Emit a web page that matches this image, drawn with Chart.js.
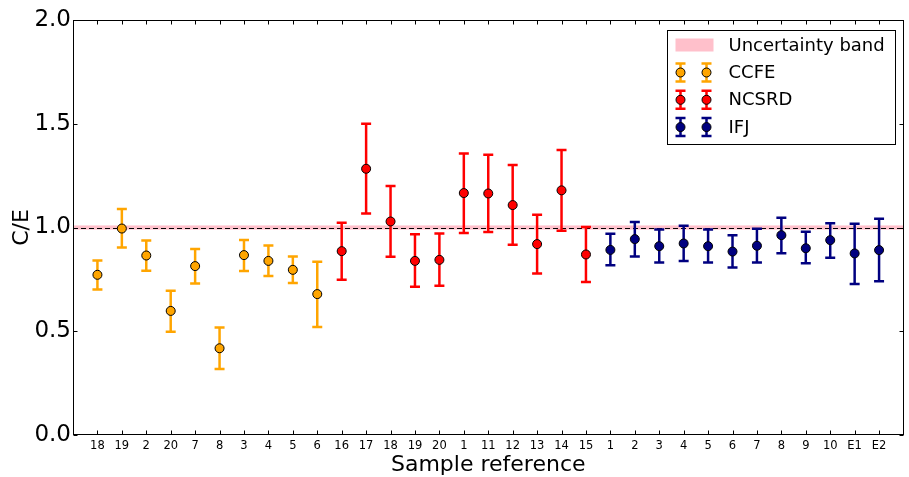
<!DOCTYPE html>
<html lang="en">
<head>
    <meta charset="UTF-8">
    <title>C/E by sample reference</title>
    <script src="https://cdn.jsdelivr.net/npm/chart.js"></script>
    <style>
        html, body { margin: 0; padding: 0; background: #ffffff; }
        #wrap { width: 909px; height: 477px; position: relative; }
    </style>
</head>
<body>
    <div id="wrap"><canvas id="myChart" width="909" height="477"></canvas></div>
    <script>
        // sample references, in the order they are plotted
        const ccfeLabels = [ '18', '19', '2', '20', '7', '8', '3', '4', '5', '6' ];
        const ncsrdLabels = [ '16', '17', '18', '19', '20', '1', '11', '12', '13', '14', '15' ];
        const ifjLabels = [ '1', '2', '3', '4', '5', '6', '7', '8', '9', '10', 'E1', 'E2' ];

        // C/E values and the ends of their error bars
        const ccfeValues = [ 0.772, 0.995, 0.865, 0.598, 0.814, 0.418, 0.867, 0.839, 0.796, 0.679 ];
        const ccfeLow = [ 0.701, 0.904, 0.791, 0.498, 0.730, 0.318, 0.790, 0.766, 0.732, 0.520 ];
        const ccfeHigh = [ 0.841, 1.089, 0.937, 0.695, 0.896, 0.518, 0.940, 0.913, 0.860, 0.835 ];

        const ncsrdValues = [ 0.886, 1.283, 1.029, 0.839, 0.844, 1.166, 1.164, 1.108, 0.920, 1.179, 0.870 ];
        const ncsrdLow = [ 0.748, 1.068, 0.859, 0.714, 0.719, 0.974, 0.978, 0.917, 0.778, 0.984, 0.737 ];
        const ncsrdHigh = [ 1.023, 1.500, 1.200, 0.968, 0.971, 1.357, 1.351, 1.301, 1.061, 1.373, 1.003 ];

        const ifjValues = [ 0.892, 0.944, 0.910, 0.923, 0.910, 0.884, 0.912, 0.963, 0.900, 0.939, 0.875, 0.891 ];
        const ifjLow = [ 0.818, 0.860, 0.831, 0.839, 0.831, 0.807, 0.831, 0.876, 0.828, 0.854, 0.728, 0.741 ];
        const ifjHigh = [ 0.970, 1.026, 0.990, 1.008, 0.990, 0.963, 0.994, 1.047, 0.979, 1.021, 1.018, 1.042 ];

        // reference line and uncertainty band
        const referenceValue = 1.0;
        const bandLow = 0.99;
        const bandHigh = 1.01;

        const yTicks = [ 0, 0.5, 1.0, 1.5, 2.0 ];

        const allLabels = ccfeLabels.concat( ncsrdLabels, ifjLabels );
        const FONT = "'DejaVu Sans', sans-serif";

        // build points, x = position along the sample axis
        const makePoints = ( values, low, high, start ) =>
            values.map( ( v, i ) => ( { x: start + i, y: v, lo: low[ i ], hi: high[ i ] } ) );

        const series = [
            { label: 'CCFE', color: '#ffa500', points: makePoints( ccfeValues, ccfeLow, ccfeHigh, 0 ) },
            { label: 'NCSRD', color: '#ff0000', points: makePoints( ncsrdValues, ncsrdLow, ncsrdHigh, ccfeLabels.length ) },
            { label: 'IFJ', color: '#000080', points: makePoints( ifjValues, ifjLow, ifjHigh, ccfeLabels.length + ncsrdLabels.length ) }
        ];

        const drawErrorBar = ( ctx, x, yTop, yBottom, color ) => {
            ctx.save();
            ctx.strokeStyle = color;
            ctx.lineWidth = 2.5;
            ctx.beginPath();
            ctx.moveTo( x, yTop );
            ctx.lineTo( x, yBottom );
            ctx.moveTo( x - 5, yTop );
            ctx.lineTo( x + 5, yTop );
            ctx.moveTo( x - 5, yBottom );
            ctx.lineTo( x + 5, yBottom );
            ctx.stroke();
            ctx.restore();
        };

        const drawMarker = ( ctx, x, y, color ) => {
            ctx.save();
            ctx.fillStyle = color;
            ctx.strokeStyle = '#000000';
            ctx.lineWidth = 1;
            ctx.beginPath();
            ctx.arc( x, y, 4.5, 0, Math.PI * 2 );
            ctx.fill();
            ctx.stroke();
            ctx.restore();
        };

        // band, dashed line and error bars go under the markers
        const underlayPlugin = {
            id: 'underlay',
            beforeDatasetsDraw( chart ) {
                const { ctx, chartArea, scales } = chart;
                const y = scales.y, x = scales.x;
                ctx.save();
                ctx.beginPath();
                ctx.rect( chartArea.left, chartArea.top, chartArea.right - chartArea.left, chartArea.bottom - chartArea.top );
                ctx.clip();

                const bTop = y.getPixelForValue( bandHigh );
                const bBot = y.getPixelForValue( bandLow );
                ctx.fillStyle = '#ffc0cb';
                ctx.fillRect( chartArea.left, bTop, chartArea.right - chartArea.left, bBot - bTop );

                const yRef = Math.round( y.getPixelForValue( referenceValue ) ) + 0.5;
                ctx.strokeStyle = '#000000';
                ctx.lineWidth = 1;
                ctx.setLineDash( [ 5, 3 ] );
                ctx.beginPath();
                ctx.moveTo( chartArea.left, yRef );
                ctx.lineTo( chartArea.right, yRef );
                ctx.stroke();
                ctx.setLineDash( [] );

                for ( const s of series ) {
                    for ( const p of s.points ) {
                        drawErrorBar( ctx, x.getPixelForValue( p.x ), y.getPixelForValue( p.hi ), y.getPixelForValue( p.lo ), s.color );
                    }
                }
                ctx.restore();
            }
        };

        // frame with inward ticks on all four sides, plus the legend box
        const framePlugin = {
            id: 'frame',
            afterDraw( chart ) {
                const { ctx, chartArea, scales } = chart;
                const L = Math.round( chartArea.left ) + 0.5;
                const R = Math.round( chartArea.right ) - 0.5;
                const T = Math.round( chartArea.top ) + 0.5;
                const B = Math.round( chartArea.bottom ) - 0.5;
                ctx.save();
                ctx.strokeStyle = '#000000';
                ctx.lineWidth = 1;
                ctx.strokeRect( L, T, R - L, B - T );
                ctx.beginPath();
                for ( let i = 0; i < allLabels.length; i++ ) {
                    const px = Math.round( scales.x.getPixelForValue( i ) ) + 0.5;
                    ctx.moveTo( px, B ); ctx.lineTo( px, B - 4 );
                    ctx.moveTo( px, T ); ctx.lineTo( px, T + 4 );
                }
                for ( const v of yTicks ) {
                    const py = Math.round( scales.y.getPixelForValue( v ) ) + 0.5;
                    ctx.moveTo( L, py ); ctx.lineTo( L + 4, py );
                    ctx.moveTo( R, py ); ctx.lineTo( R - 4, py );
                }
                ctx.stroke();

                // legend
                const boxW = 228, boxH = 114;
                const bx = Math.round( chartArea.right - 9 - boxW ) + 0.5;
                const by = Math.round( chartArea.top + 10 ) + 0.5;
                ctx.fillStyle = '#ffffff';
                ctx.fillRect( bx, by, boxW, boxH );
                ctx.strokeRect( bx, by, boxW, boxH );

                ctx.fillStyle = '#ffc0cb';
                ctx.fillRect( bx + 8, by + 8, 38, 13 );

                ctx.font = '18px ' + FONT;
                ctx.textBaseline = 'middle';
                ctx.fillStyle = '#000000';
                ctx.fillText( 'Uncertainty band', bx + 61, by + 16 );

                series.forEach( ( s, i ) => {
                    const cy = by + 42 + i * 27.3;
                    for ( const mx of [ bx + 13, bx + 39 ] ) {
                        drawErrorBar( ctx, mx, cy - 9, cy + 9, s.color );
                        drawMarker( ctx, mx, cy, s.color );
                    }
                    ctx.fillStyle = '#000000';
                    ctx.fillText( s.label, bx + 61, cy + 1 );
                } );
                ctx.restore();
            }
        };

        const ctx = document.getElementById( 'myChart' ).getContext( '2d' );
        const myChart = new Chart( ctx, {
            type: 'scatter',
            data: {
                datasets: series.map( s => ( {
                    label: s.label,
                    data: s.points,
                    backgroundColor: s.color,
                    borderColor: '#000000',
                    borderWidth: 1,
                    pointRadius: 4.5,
                    pointHoverRadius: 4.5,
                    showLine: false
                } ) )
            },
            options: {
                responsive: false,
                animation: false,
                devicePixelRatio: 1,
                layout: { padding: { top: 20, right: 3, left: 0, bottom: 0 } },
                plugins: {
                    legend: { display: false },
                    tooltip: { enabled: false }
                },
                scales: {
                    x: {
                        type: 'linear',
                        min: -1,
                        max: allLabels.length,
                        grid: { display: false, drawTicks: false },
                        border: { display: false },
                        // blank ticks at both ends so the end labels add no overflow padding
                        afterBuildTicks: ( scale ) => {
                            const t = [ { value: -1 } ];
                            allLabels.forEach( ( _, i ) => t.push( { value: i } ) );
                            t.push( { value: allLabels.length } );
                            scale.ticks = t;
                        },
                        afterFit: ( scale ) => {
                            scale.height = 42;
                            scale.paddingLeft = 0;
                            scale.paddingRight = 0;
                        },
                        ticks: {
                            autoSkip: false,
                            maxRotation: 0,
                            padding: 4,
                            color: '#000000',
                            font: { family: FONT, size: 11.5 },
                            callback: ( v ) => allLabels[ v ] ?? ''
                        },
                        title: {
                            display: true,
                            text: 'Sample reference',
                            color: '#000000',
                            font: { family: FONT, size: 22 },
                            padding: { top: 0, bottom: -1 }
                        }
                    },
                    y: {
                        min: 0,
                        max: 2,
                        grid: { display: false, drawTicks: false },
                        border: { display: false },
                        afterBuildTicks: ( scale ) => {
                            scale.ticks = yTicks.map( v => ( { value: v } ) );
                        },
                        afterFit: ( scale ) => { scale.width = 73; },
                        ticks: {
                            padding: 2,
                            color: '#000000',
                            font: { family: FONT, size: 23 },
                            callback: ( v ) => v.toFixed( 1 )
                        },
                        title: {
                            display: true,
                            text: 'C/E',
                            color: '#000000',
                            font: { family: FONT, size: 22 },
                            padding: { top: 9, bottom: 0 }
                        }
                    }
                }
            },
            plugins: [ underlayPlugin, framePlugin ]
        } );
    </script>
</body>
</html>
